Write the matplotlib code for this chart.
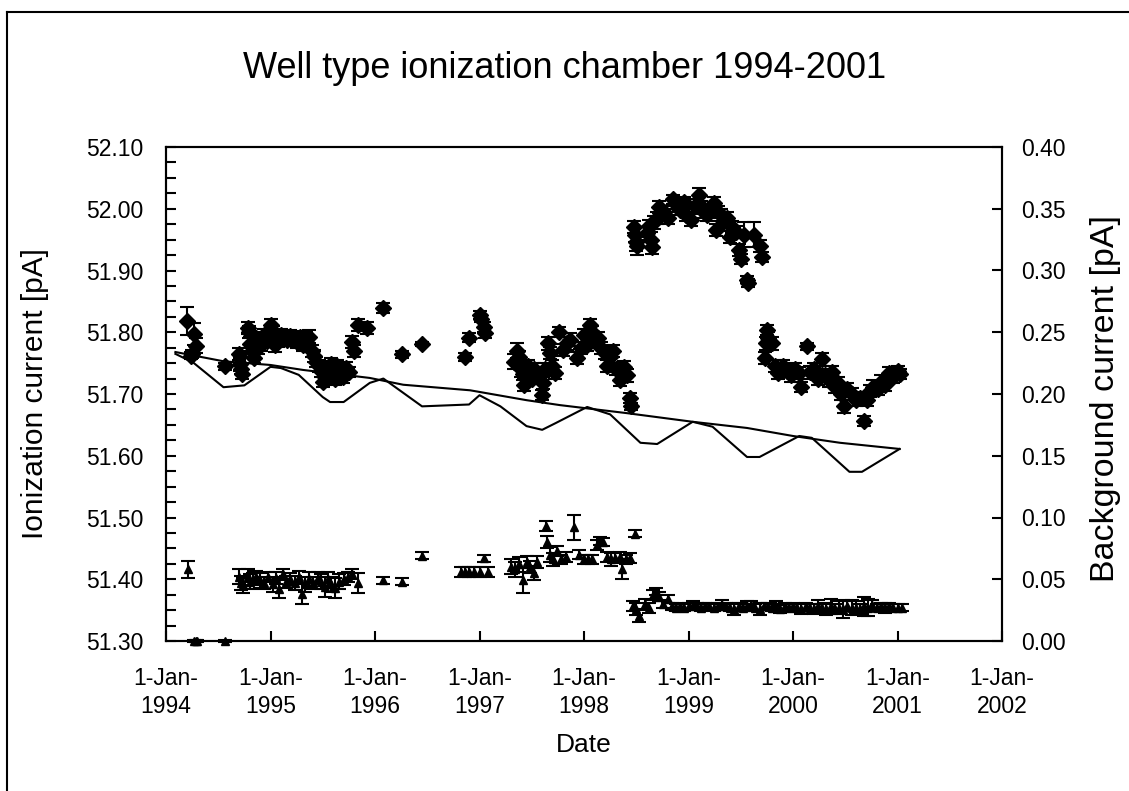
import numpy as np
import matplotlib
matplotlib.use("Agg")
import matplotlib.pyplot as plt
from matplotlib.lines import Line2D
from matplotlib.ticker import MultipleLocator, FormatStrFormatter

plt.rcParams['font.family'] = ['Liberation Sans', 'DejaVu Sans']

# ionization current (diamonds, left axis) - decimal year, value [pA], error
ion_year = [1994.20, 1994.27, 1994.29, 1994.25, 1994.24, 1994.56,
            1994.70, 1994.71, 1994.72, 1994.73, 1994.78, 1994.79, 1994.80, 1994.82, 1994.84, 1994.86,
            1994.88, 1994.91, 1994.94, 1994.97, 1995.00, 1995.02, 1995.04, 1995.07, 1995.10, 1995.13,
            1995.16, 1995.19, 1995.22, 1995.25, 1995.28, 1995.31, 1995.34, 1995.37, 1995.40, 1995.42,
            1995.44, 1995.46, 1995.48, 1995.50, 1995.52, 1995.54, 1995.56, 1995.58, 1995.60, 1995.62,
            1995.64, 1995.66, 1995.69, 1995.72, 1995.75, 1995.78, 1995.80, 1995.84, 1995.92,
            1996.08, 1996.26, 1996.45,
            1996.86, 1996.90, 1997.00, 1997.01, 1997.04, 1997.05,
            1997.33, 1997.36, 1997.38, 1997.40, 1997.42, 1997.43, 1997.46, 1997.48, 1997.50, 1997.52,
            1997.55, 1997.60, 1997.61, 1997.63, 1997.66, 1997.67, 1997.69, 1997.72, 1997.76, 1997.80,
            1997.84, 1997.87, 1997.93, 1997.97, 1998.00, 1998.03, 1998.06, 1998.08, 1998.10, 1998.13,
            1998.16, 1998.20, 1998.22, 1998.25, 1998.28, 1998.31, 1998.34, 1998.38, 1998.41, 1998.44,
            1998.45,
            1998.48, 1998.49, 1998.50, 1998.51, 1998.60, 1998.62, 1998.64, 1998.65, 1998.67, 1998.70,
            1998.72, 1998.74, 1998.77, 1998.80, 1998.85, 1998.88, 1998.92, 1998.96, 1998.98, 1999.02,
            1999.06, 1999.10, 1999.12, 1999.15, 1999.18, 1999.21, 1999.24, 1999.26, 1999.28, 1999.31,
            1999.34, 1999.37, 1999.40, 1999.42, 1999.45, 1999.48, 1999.50, 1999.53, 1999.56, 1999.57,
            1999.63, 1999.68, 1999.70,
            1999.73, 1999.74, 1999.75, 1999.76, 1999.80, 1999.83, 1999.86, 1999.90, 1999.94, 1999.98,
            2000.02, 2000.06, 2000.08, 2000.13, 2000.16, 2000.20, 2000.24, 2000.28, 2000.31, 2000.34,
            2000.37, 2000.40, 2000.43, 2000.46, 2000.49, 2000.52, 2000.56, 2000.60, 2000.64, 2000.68,
            2000.71, 2000.74, 2000.77, 2000.81, 2000.84, 2000.88, 2000.92, 2000.96, 2001.00, 2001.02]
ion_val = [51.818, 51.797, 51.778, 51.765, 51.762, 51.745,
           51.765, 51.748, 51.740, 51.733, 51.807, 51.800, 51.781, 51.770, 51.758, 51.790,
           51.775, 51.782, 51.795, 51.786, 51.812, 51.798, 51.780, 51.786, 51.795, 51.792,
           51.787, 51.794, 51.790, 51.785, 51.792, 51.780, 51.788, 51.793, 51.770, 51.762,
           51.752, 51.745, 51.738, 51.720, 51.728, 51.742, 51.735, 51.748, 51.730, 51.725,
           51.745, 51.736, 51.728, 51.742, 51.735, 51.784, 51.770, 51.812, 51.807,
           51.839, 51.764, 51.781,
           51.760, 51.791, 51.828, 51.822, 51.808, 51.799,
           51.752, 51.770, 51.760, 51.740, 51.732, 51.715, 51.745, 51.735, 51.725, 51.740,
           51.730, 51.698, 51.718, 51.740, 51.782, 51.766, 51.745, 51.734, 51.800, 51.771,
           51.782, 51.788, 51.758, 51.775, 51.795, 51.780, 51.812, 51.800, 51.788, 51.790,
           51.775, 51.766, 51.745, 51.760, 51.770, 51.740, 51.723, 51.744, 51.730, 51.694,
           51.680,
           51.970, 51.958, 51.946, 51.940, 51.960, 51.972, 51.950, 51.938, 51.978, 51.985,
           52.003, 51.990, 51.995, 51.985, 52.015, 52.008, 51.998, 52.011, 51.990, 51.982,
           52.005, 52.022, 52.003, 51.995, 51.990, 51.998, 52.009, 51.966, 51.995, 51.990,
           51.980, 51.985, 51.954, 51.970, 51.962, 51.933, 51.918, 51.958, 51.885, 51.880,
           51.958, 51.940, 51.922,
           51.758, 51.782, 51.804, 51.790, 51.782, 51.745, 51.734, 51.745, 51.738, 51.730,
           51.740, 51.734, 51.712, 51.777, 51.735, 51.740, 51.725, 51.756, 51.730, 51.722,
           51.735, 51.712, 51.718, 51.700, 51.680, 51.708, 51.700, 51.690, 51.694, 51.656,
           51.690, 51.705, 51.712, 51.708, 51.720, 51.715, 51.734, 51.728, 51.738, 51.732]
ion_err = [0.023, 0.018, 0.012, 0.007, 0.006, 0.006,
           0.010, 0.010, 0.008, 0.008, 0.010, 0.010, 0.012, 0.010, 0.008, 0.010,
           0.010, 0.012, 0.010, 0.010, 0.010, 0.012, 0.012, 0.010, 0.010, 0.008,
           0.010, 0.010, 0.012, 0.010, 0.008, 0.010, 0.012, 0.010, 0.010, 0.010,
           0.008, 0.010, 0.010, 0.008, 0.010, 0.012, 0.010, 0.010, 0.012, 0.010,
           0.010, 0.010, 0.010, 0.010, 0.008, 0.010, 0.010, 0.010, 0.010,
           0.008, 0.006, 0.004,
           0.007, 0.007, 0.007, 0.006, 0.008, 0.008,
           0.012, 0.012, 0.010, 0.012, 0.010, 0.010, 0.010, 0.010, 0.008, 0.010,
           0.010, 0.008, 0.010, 0.010, 0.010, 0.010, 0.010, 0.010, 0.008, 0.010,
           0.010, 0.010, 0.010, 0.010, 0.010, 0.010, 0.010, 0.010, 0.010, 0.010,
           0.010, 0.010, 0.010, 0.010, 0.010, 0.010, 0.010, 0.010, 0.010, 0.008,
           0.006,
           0.010, 0.012, 0.015, 0.015, 0.010, 0.010, 0.012, 0.012, 0.010, 0.010,
           0.010, 0.010, 0.010, 0.010, 0.008, 0.008, 0.008, 0.008, 0.010, 0.010,
           0.010, 0.012, 0.010, 0.010, 0.010, 0.010, 0.010, 0.010, 0.010, 0.010,
           0.010, 0.010, 0.010, 0.010, 0.010, 0.010, 0.008, 0.020, 0.006, 0.006,
           0.020, 0.010, 0.008,
           0.010, 0.010, 0.008, 0.010, 0.010, 0.010, 0.010, 0.010, 0.010, 0.010,
           0.010, 0.010, 0.008, 0.006, 0.010, 0.010, 0.010, 0.010, 0.010, 0.010,
           0.010, 0.010, 0.010, 0.010, 0.010, 0.010, 0.010, 0.010, 0.010, 0.008,
           0.010, 0.010, 0.010, 0.010, 0.010, 0.010, 0.010, 0.010, 0.008, 0.008]

# background current (triangles, right axis)
bg_year = [1994.21, 1994.27, 1994.29, 1994.30, 1994.56,
           1994.70, 1994.72, 1994.74, 1994.78, 1994.80, 1994.83, 1994.86, 1994.90, 1994.94, 1994.98,
           1995.02, 1995.05, 1995.08, 1995.12, 1995.15, 1995.19, 1995.23, 1995.27, 1995.30, 1995.33,
           1995.37, 1995.41, 1995.45, 1995.48, 1995.52, 1995.55, 1995.58, 1995.62, 1995.66, 1995.70,
           1995.74, 1995.78, 1995.84,
           1996.08, 1996.26, 1996.45,
           1996.82, 1996.86, 1996.90, 1996.95, 1997.00, 1997.04, 1997.08,
           1997.30, 1997.34, 1997.38, 1997.42, 1997.45, 1997.48, 1997.52, 1997.55,
           1997.64, 1997.65, 1997.67, 1997.70, 1997.74, 1997.78, 1997.83, 1997.90, 1997.95, 1998.00,
           1998.04, 1998.08, 1998.12, 1998.15, 1998.18, 1998.22, 1998.26, 1998.30, 1998.34, 1998.36,
           1998.40, 1998.44, 1998.49,
           1998.47, 1998.50, 1998.53, 1998.58, 1998.62, 1998.66, 1998.69, 1998.72, 1998.76, 1998.80,
           1998.84, 1998.88, 1998.92, 1998.96, 1999.00, 1999.04, 1999.08, 1999.12, 1999.16, 1999.20,
           1999.24, 1999.28, 1999.32, 1999.36, 1999.40, 1999.44, 1999.48, 1999.52, 1999.56, 1999.60,
           1999.64, 1999.68, 1999.72, 1999.76, 1999.80, 1999.84, 1999.88, 1999.92, 1999.96, 2000.00,
           2000.04, 2000.08, 2000.12, 2000.16, 2000.20, 2000.24, 2000.28, 2000.32, 2000.36, 2000.40,
           2000.44, 2000.48, 2000.52, 2000.56, 2000.60, 2000.64, 2000.68, 2000.72, 2000.76, 2000.80,
           2000.84, 2000.88, 2000.92, 2000.96, 2001.00, 2001.04]
bg_val = [0.058, 0.000, 0.000, 0.000, 0.000,
          0.052, 0.047, 0.045, 0.053, 0.048, 0.050, 0.052, 0.049, 0.047, 0.052,
          0.046, 0.051, 0.042, 0.054, 0.048, 0.050, 0.047, 0.052, 0.038, 0.046,
          0.050, 0.047, 0.051, 0.048, 0.044, 0.050, 0.046, 0.043, 0.048, 0.050,
          0.052, 0.054, 0.047,
          0.049, 0.048, 0.069,
          0.056, 0.056, 0.056, 0.056, 0.056, 0.067, 0.056,
          0.060, 0.058, 0.062, 0.049, 0.064, 0.060, 0.055, 0.064,
          0.093, 0.080, 0.070, 0.066, 0.073, 0.066, 0.068, 0.092, 0.070, 0.066,
          0.066, 0.066, 0.078, 0.081, 0.080, 0.068, 0.066, 0.067, 0.068, 0.058,
          0.066, 0.067, 0.087,
          0.028, 0.026, 0.020, 0.030, 0.027, 0.037, 0.040, 0.036, 0.030, 0.034,
          0.028, 0.027, 0.028, 0.027, 0.028, 0.029, 0.028, 0.027, 0.028, 0.028,
          0.027, 0.028, 0.029, 0.028, 0.027, 0.026, 0.028, 0.027, 0.028, 0.029,
          0.027, 0.026, 0.028, 0.028, 0.027, 0.028, 0.026, 0.028, 0.027, 0.028,
          0.027, 0.026, 0.028, 0.027, 0.026, 0.028, 0.027, 0.026, 0.028, 0.026,
          0.027, 0.026, 0.028, 0.027, 0.027, 0.026, 0.028, 0.027, 0.029, 0.027,
          0.028, 0.027, 0.028, 0.027, 0.027, 0.027]
bg_err = [0.007, 0.001, 0.001, 0.001, 0.001,
          0.006, 0.006, 0.006, 0.005, 0.006, 0.005, 0.005, 0.006, 0.005, 0.004,
          0.006, 0.005, 0.007, 0.004, 0.005, 0.005, 0.006, 0.005, 0.008, 0.006,
          0.006, 0.005, 0.005, 0.006, 0.008, 0.006, 0.006, 0.008, 0.006, 0.005,
          0.004, 0.004, 0.008,
          0.003, 0.003, 0.003,
          0.004, 0.004, 0.004, 0.004, 0.004, 0.003, 0.004,
          0.006, 0.006, 0.006, 0.010, 0.005, 0.005, 0.006, 0.005,
          0.004, 0.005, 0.006, 0.005, 0.004, 0.004, 0.004, 0.010, 0.004, 0.004,
          0.004, 0.004, 0.004, 0.003, 0.003, 0.004, 0.005, 0.004, 0.004, 0.008,
          0.004, 0.004, 0.003,
          0.004, 0.005, 0.005, 0.004, 0.004, 0.004, 0.003, 0.004, 0.003, 0.003,
          0.003, 0.003, 0.003, 0.003, 0.003, 0.003, 0.003, 0.003, 0.003, 0.003,
          0.003, 0.003, 0.004, 0.003, 0.003, 0.005, 0.003, 0.003, 0.004, 0.003,
          0.003, 0.005, 0.003, 0.003, 0.003, 0.004, 0.003, 0.003, 0.003, 0.003,
          0.003, 0.004, 0.003, 0.003, 0.004, 0.005, 0.003, 0.005, 0.006, 0.004,
          0.005, 0.007, 0.004, 0.006, 0.005, 0.004, 0.008, 0.007, 0.004, 0.003,
          0.003, 0.004, 0.003, 0.003, 0.003, 0.003]

# reference line (decay only)
ref_year = [1994.09, 1994.55, 1995.00, 1995.31, 1995.95, 1996.27, 1996.91, 1997.45, 1997.77,
            1998.41, 1999.04, 1999.56, 2000.00, 2000.45, 2001.02]
ref_val = [51.768, 51.753, 51.747, 51.739, 51.726, 51.715, 51.706, 51.690, 51.682,
           51.669, 51.655, 51.645, 51.632, 51.621, 51.611]

# reference line with seasonal variation
wave_year = [1994.09, 1994.26, 1994.55, 1994.75, 1995.00, 1995.10, 1995.27, 1995.50, 1995.57,
             1995.70, 1995.95, 1996.08, 1996.45, 1996.90, 1997.00, 1997.20, 1997.45, 1997.60,
             1997.73, 1998.03, 1998.25, 1998.54, 1998.70, 1999.04, 1999.23, 1999.56, 1999.68,
             2000.06, 2000.18, 2000.54, 2000.66, 2001.02]
wave_val = [51.765, 51.751, 51.711, 51.714, 51.744, 51.742, 51.731, 51.695, 51.687,
            51.687, 51.718, 51.725, 51.680, 51.683, 51.698, 51.680, 51.648, 51.642,
            51.653, 51.679, 51.667, 51.621, 51.619, 51.655, 51.647, 51.598, 51.598,
            51.632, 51.629, 51.574, 51.574, 51.611]

years = np.arange(1994, 2003)

fig = plt.figure(figsize=(11.29, 7.91), dpi=100)
ax = fig.add_axes([166/1129, 1-641/791, 836/1129, 494/791])
ax2 = ax.twinx()

ax.plot(ref_year, ref_val, c="black", lw=1.5)
ax.plot(wave_year, wave_val, c="black", lw=1.5)
ax.errorbar(ion_year, ion_val, yerr=ion_err, fmt="D", c="black", ms=8.5,
            elinewidth=1.5, capsize=5, capthick=1.5)
ax2.errorbar(bg_year, bg_val, yerr=bg_err, fmt="^", c="black", ms=6,
             elinewidth=1.5, capsize=5, capthick=1.5, clip_on=False)

ax.set_xlim(1994, 2002)
ax.set_ylim(51.30, 52.10)
ax2.set_ylim(0.0, 0.40)
ax.set_xticks(years)
ax.set_xticklabels(["1-Jan-\n" + str(y) for y in years], linespacing=1.25)
ax.yaxis.set_major_locator(MultipleLocator(0.1))
ax.yaxis.set_minor_locator(MultipleLocator(0.025))
ax.yaxis.set_major_formatter(FormatStrFormatter("%.2f"))
ax2.yaxis.set_major_locator(MultipleLocator(0.05))
ax2.yaxis.set_major_formatter(FormatStrFormatter("%.2f"))

ax.tick_params(axis="both", which="both", direction="in", length=7, width=1.5, labelsize=16.5)
ax.tick_params(axis="y", pad=16)
ax.tick_params(axis="x", pad=19)
ax2.tick_params(axis="y", direction="in", length=7, width=1.5, labelsize=16.5, pad=14)
for a in (ax, ax2):
    for s in a.spines.values():
        s.set_linewidth(1.5)

ax.set_ylabel("Ionization current [pA]", fontsize=21.5, va="center")
ax.yaxis.set_label_coords(-0.157, 0.5)
ax2.set_ylabel("Background current [pA]", fontsize=24.5, va="center")
ax2.yaxis.set_label_coords(1.124, 0.49)
ax.set_xlabel("Date", fontsize=19, va="center")
ax.xaxis.set_label_coords(0.5, (641 - 745) / 494)
fig.text(0.5, 1-68/791, "Well type ionization chamber 1994-2001", fontsize=26, ha="center", va="center")

# chart area border (left and top edges visible)
fig.add_artist(Line2D([7/1129, 7/1129], [0, 1-12/791], c="black", lw=1.5))
fig.add_artist(Line2D([7/1129, 1], [1-12/791, 1-12/791], c="black", lw=1.5))

fig.savefig("out.png", dpi=100)
